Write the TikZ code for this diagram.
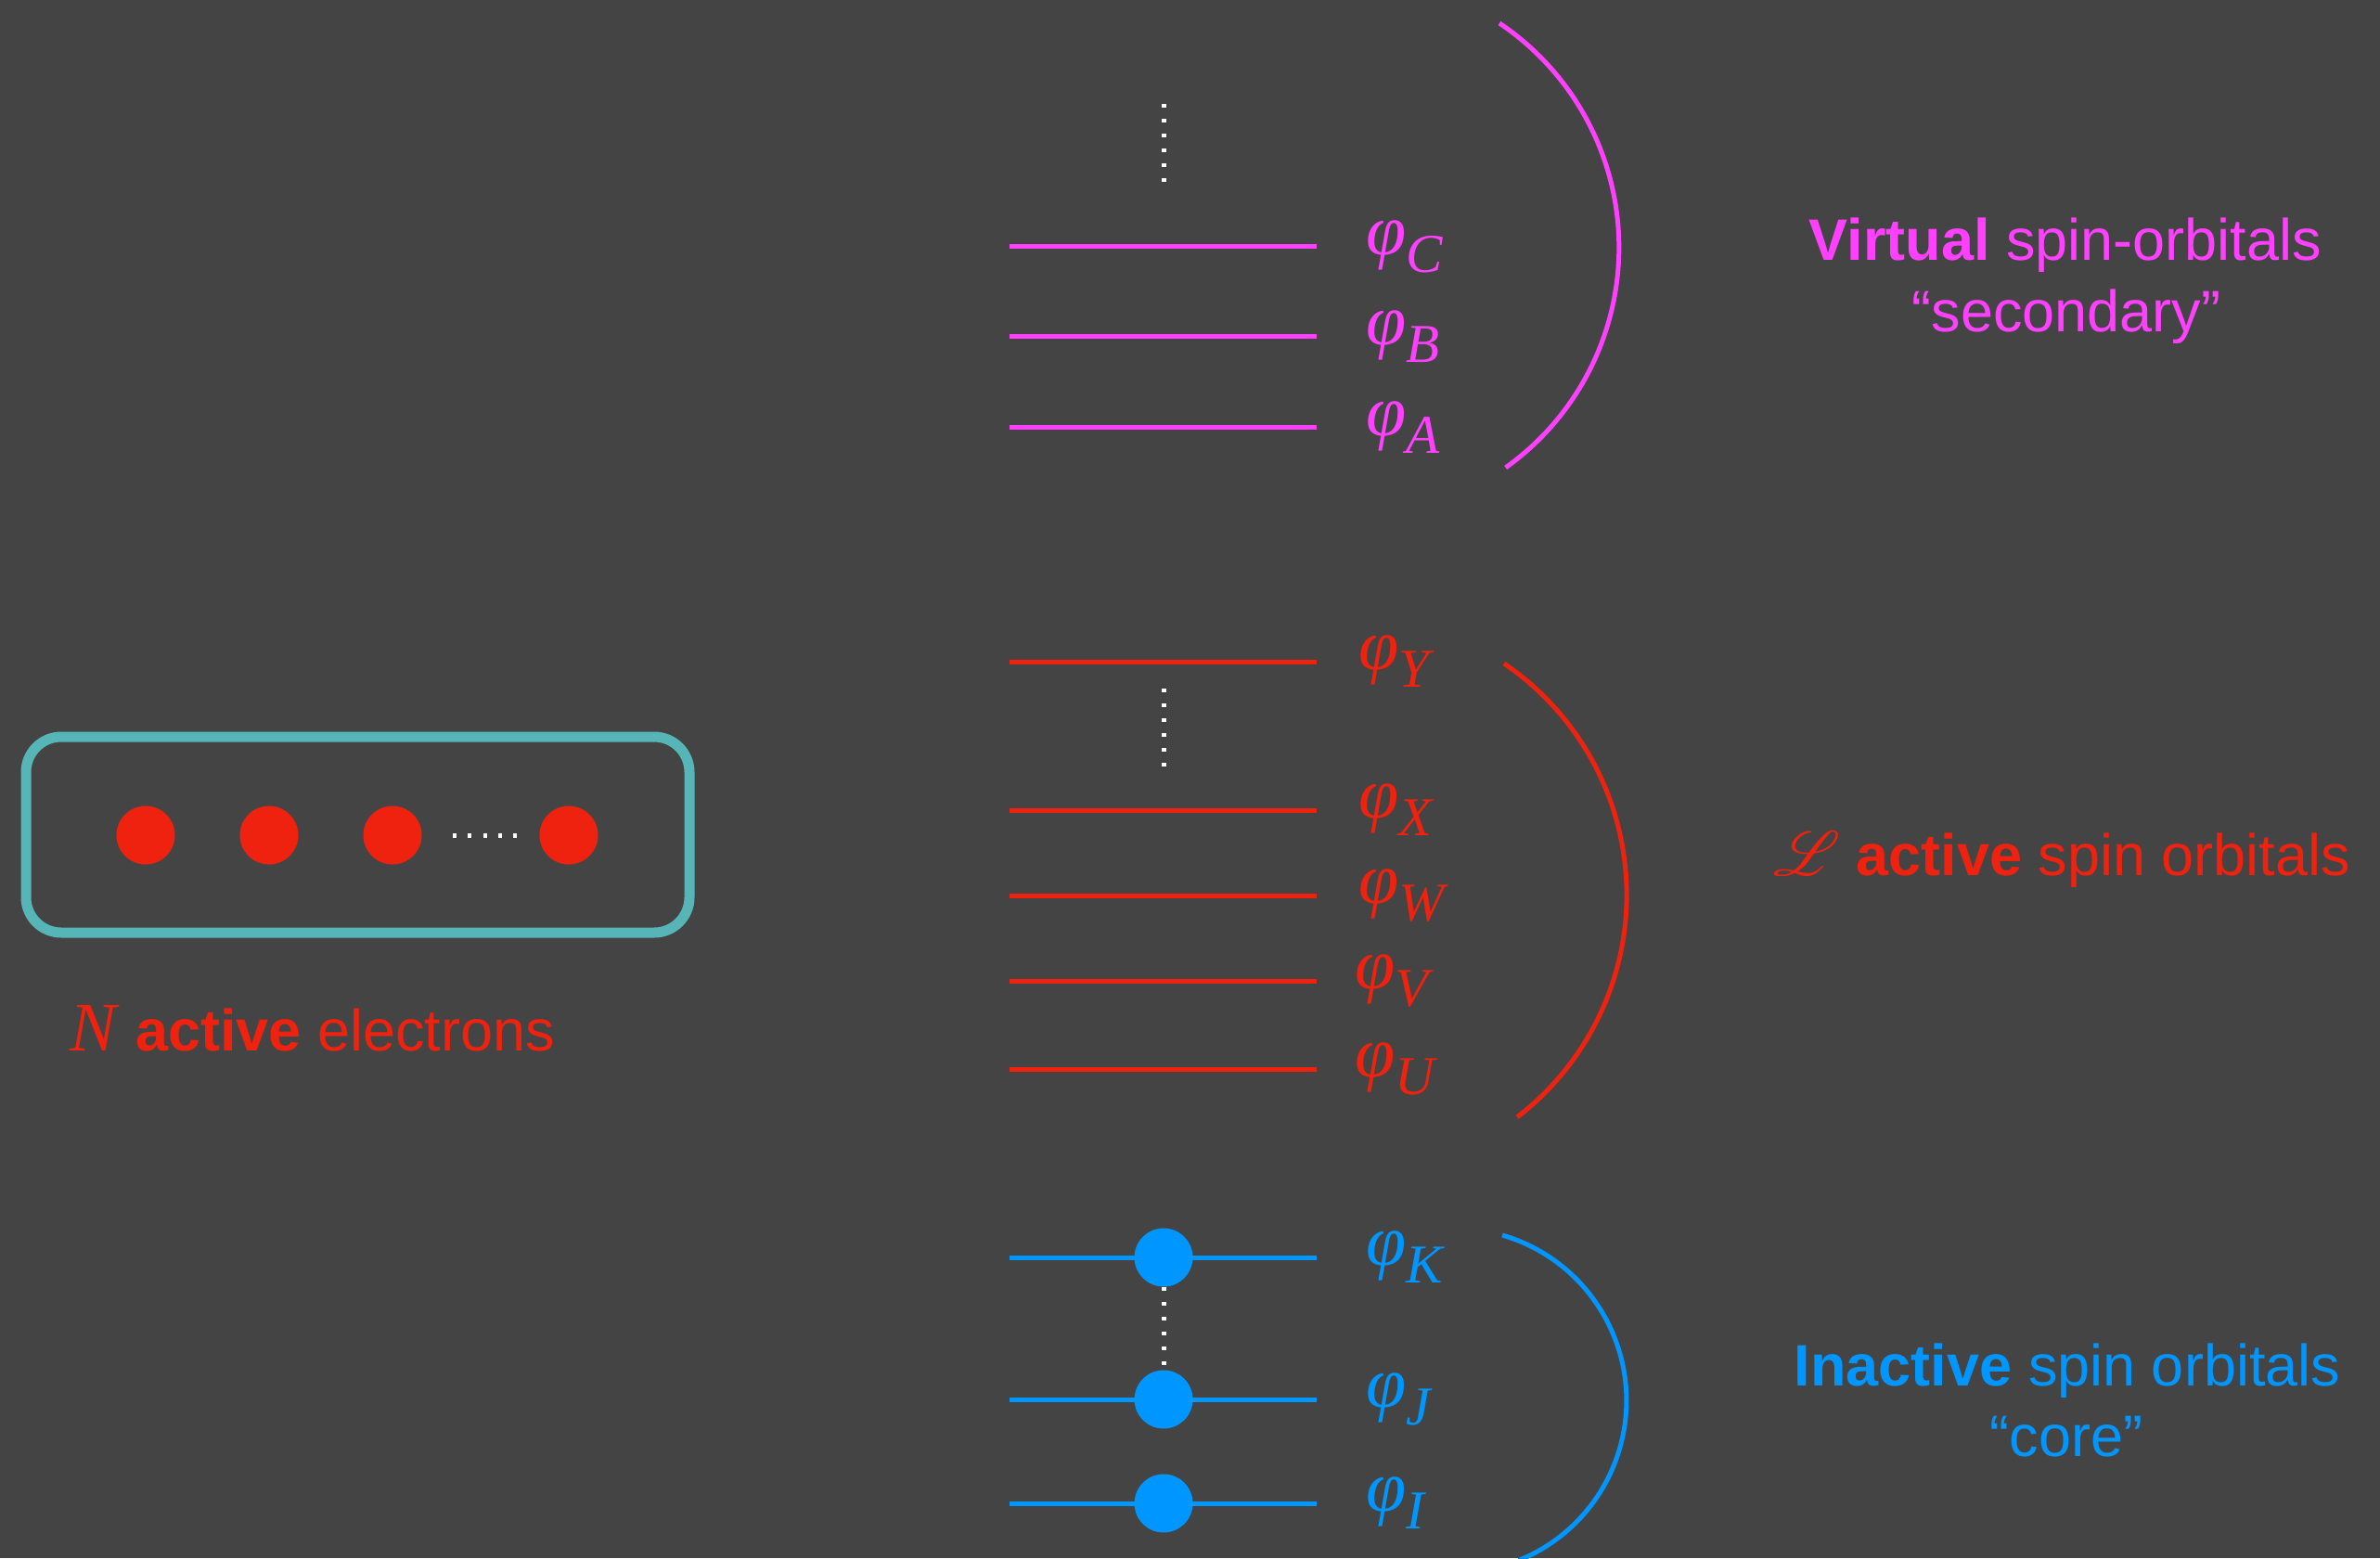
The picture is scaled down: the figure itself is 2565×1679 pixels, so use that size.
\documentclass[tikz,border=0pt]{standalone}
\usepackage{fontspec}
\usepackage{mathrsfs}
\setmainfont{Liberation Sans}
\newfontfamily\orbserif{Liberation Serif}

\definecolor{bgc}{RGB}{68,68,68}
\definecolor{magc}{RGB}{255,64,255}
\definecolor{redc}{RGB}{238,34,14}
\definecolor{bluec}{RGB}{0,150,255}
\definecolor{tealc}{RGB}{86,182,183}

% orbital label: italic phi with a lowered subscript letter
\newcommand{\orbname}[1]{{\orbserif\itshape\fontsize{78}{78}\selectfont φ\raisebox{-0.25em}{\fontsize{59}{59}\selectfont #1}}}

\tikzset{
  orbline/.style={line width=5},
  dotline/.style={white, line width=5, dash pattern=on 4 off 12},
  shell/.style={line width=5},
  electron/.style={circle, inner sep=0, minimum size=63, draw=none},
  orblabel/.style={anchor=base west, inner sep=0},
  caption/.style={anchor=base, inner sep=0, font=\fontsize{63}{75}\selectfont},
}

\begin{document}
\begin{tikzpicture}[x=1pt, y=-1pt]
  \fill[bgc] (0,0) rectangle (2565,1679);
  \useasboundingbox (0,0) rectangle (2565,1679);

  % ---- virtual (secondary) levels ----
  \begin{scope}[magc]
    \foreach \n/\y in {C/265, B/362, A/460} {
      \coordinate (\n-l) at (1088,\y);
      \coordinate (\n-r) at (1419,\y);
      \draw[orbline] (\n-l) -- (\n-r);
      \node[orblabel, text=magc] (lab\n) at (1472,\y+9) {\orbname{\n}};
    }
    \coordinate (vdtop) at (1254,112);
    \coordinate (vdbot) at (1254,198);
    \draw[dotline] (vdtop) -- (vdbot);
    \coordinate (varcA) at (1616,25);
    \draw[shell] (varcA) arc[start angle=-56.1, end angle=54.5, radius=291.3];
    \node[caption, text=magc] (virt1) at (2226,280) {\textbf{Virtual} spin-orbitals};
    \node[caption, text=magc] (virt2) at (2227,357) {“secondary”};
  \end{scope}

  % ---- active levels ----
  \begin{scope}[redc]
    \foreach \n/\y/\lx in {Y/713/1464, X/873/1464, W/965/1464, V/1057/1460, U/1152/1460} {
      \coordinate (\n-l) at (1088,\y);
      \coordinate (\n-r) at (1419,\y);
      \draw[orbline] (\n-l) -- (\n-r);
      \node[orblabel, text=redc] (lab\n) at (\lx,\y+8) {\orbname{\n}};
    }
    \coordinate (adtop) at (1254,742);
    \coordinate (adbot) at (1254,826);
    \draw[dotline] (adtop) -- (adbot);
    \coordinate (aarcA) at (1621,715);
    \draw[shell] (aarcA) arc[start angle=-55.8, end angle=52.5, radius=301.7];
    \node[anchor=base west, inner sep=0, text=redc, font=\fontsize{63}{75}\selectfont] (act) at (1911,943)
      {\resizebox{72pt}{!}{$\mathscr{L}$} \textbf{active} spin orbitals};
  \end{scope}

  % ---- inactive (core) levels ----
  \begin{scope}[bluec]
    \foreach \n/\y in {K/1355, J/1508, I/1620} {
      \coordinate (\n-l) at (1088,\y);
      \coordinate (\n-r) at (1419,\y);
      \draw[orbline] (\n-l) -- (\n-r);
      \node[electron, fill=bluec] (e\n) at (1254,\y) {};
      \node[orblabel, text=bluec] (lab\n) at (1472,\y+8) {\orbname{\n}};
    }
    \draw[dotline] (eK.south) -- (eJ.north);
    \coordinate (carcA) at (1619,1331);
    \draw[shell] (carcA) arc[start angle=-73.8, end angle=68, radius=185.7];
    \node[caption, text=bluec] (inact1) at (2228,1493) {\textbf{Inactive} spin orbitals};
    \node[caption, text=bluec] (inact2) at (2227,1569) {“core”};
  \end{scope}

  % ---- box of active electrons ----
  \node[draw=tealc, line width=11, rounded corners=38, inner sep=0,
        minimum width=715, minimum height=211] (box) at (385.5,899.5) {};
  \node[electron, fill=redc] (el1) at (157,900) {};
  \node[electron, fill=redc] (el2) at (290,900) {};
  \node[electron, fill=redc] (el3) at (423,900) {};
  \node[electron, fill=redc] (el4) at (613,900) {};
  \coordinate (hdl) at (488,900);
  \coordinate (hdr) at (560,900);
  \draw[dotline, dash pattern=on 4 off 12.3] (hdl) -- (hdr);
  \node[anchor=base west, inner sep=0, text=redc, font=\fontsize{63}{75}\selectfont] (nel) at (75,1132)
    {{\orbserif\itshape\fontsize{75}{75}\selectfont N} \textbf{active} electrons};
\end{tikzpicture}
\end{document}
